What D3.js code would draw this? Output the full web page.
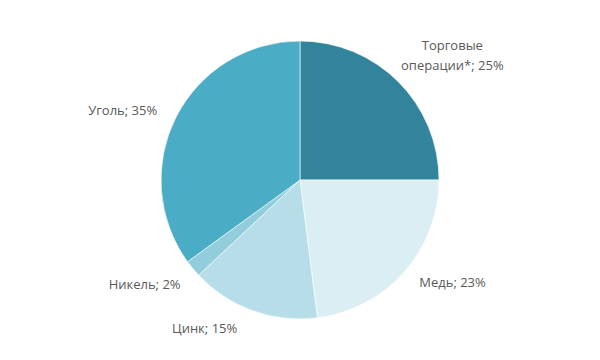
<!DOCTYPE html>
<html>
<head>
<meta charset="utf-8">
<script src="https://cdn.jsdelivr.net/npm/d3@7"></script>
<style>
  body { margin: 0; background: #fff; }
  text { font-family: "Open Sans", sans-serif; font-size: 13px; fill: #595959; }
</style>
</head>
<body>
<svg width="600" height="360"></svg>
<script>
// data
var categories = ["Торговые операции*", "Медь", "Цинк", "Никель", "Уголь"];
var shares = [25, 23, 15, 2, 35];
var colors = ["#31849b", "#daeef3", "#b7dee8", "#92cddc", "#4bacc6"];
// label nudges relative to label arc (px)
var labelNudge = [[18, 10], [10, -23], [-31, -30], [-9, -17], [-8, 17]];

var svg = d3.select("svg"),
    cx = 300, cy = 180, radius = 139;

var g = svg.append("g").attr("transform", "translate(" + cx + "," + cy + ")");

var rows = categories.map(function(c, i) { return {name: c, value: shares[i], i: i}; });

var pie = d3.pie().sort(null).value(function(d) { return d.value; });
var arc = d3.arc().innerRadius(0).outerRadius(radius);
var labelArc = d3.arc().innerRadius(190).outerRadius(190);

var arcs = pie(rows);

g.selectAll("path")
    .data(arcs)
    .enter().append("path")
    .attr("d", arc)
    .attr("fill", function(d) { return colors[d.data.i]; })
    .attr("stroke", "#ffffff")
    .attr("stroke-width", 0.6);

var lbl = g.selectAll("text.label")
    .data(arcs)
    .enter().append("text")
    .attr("class", "label")
    .attr("text-anchor", "middle")
    .attr("transform", function(d) {
        var c = labelArc.centroid(d), n = labelNudge[d.data.i];
        return "translate(" + (c[0] + n[0]) + "," + (c[1] + n[1]) + ")";
    });

lbl.each(function(d) {
    var t = d3.select(this);
    var txt = d.data.name + "; " + d.data.value + "%";
    if (d.data.i === 0) {
        t.append("tspan").attr("x", 0).attr("y", -10 + 4.5).text("Торговые");
        t.append("tspan").attr("x", 0).attr("y", 10 + 4.5).text("операции*; " + d.data.value + "%");
    } else {
        t.append("tspan").attr("x", 0).attr("y", 4.5).text(txt);
    }
});
</script>
</body>
</html>
